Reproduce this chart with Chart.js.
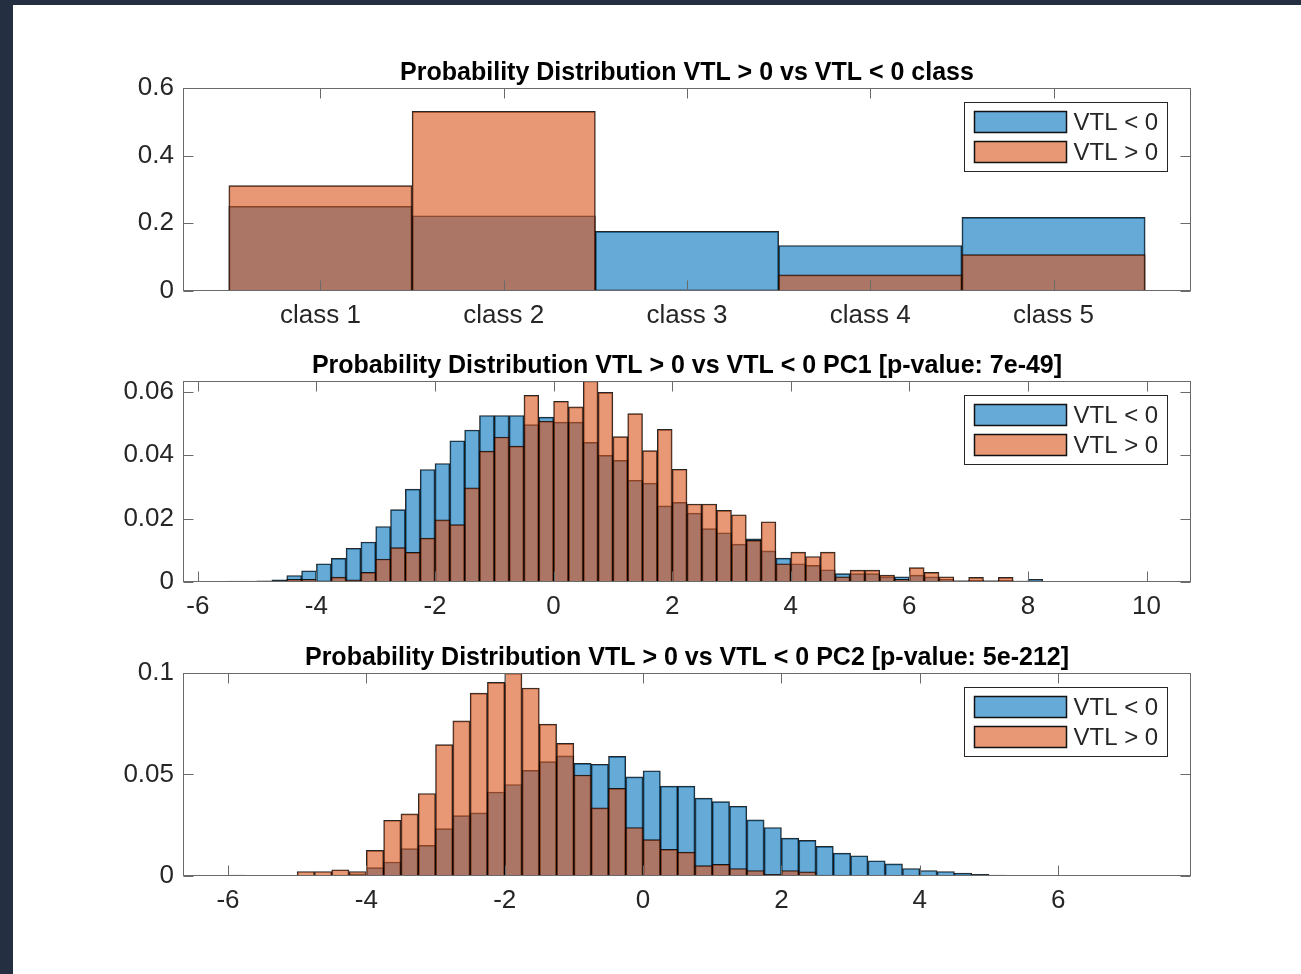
<!DOCTYPE html>
<html>
<head>
<meta charset="utf-8">
<title>Probability Distribution VTL</title>
<script src="https://cdn.jsdelivr.net/npm/chart.js@4.4.1/dist/chart.umd.min.js"></script>
<style>
  html, body { margin: 0; padding: 0; }
  body { width: 1301px; height: 974px; background: #243042; position: relative; overflow: hidden; }
  #sheet { position: absolute; left: 13px; top: 5px; right: 0; bottom: 0; background: #fff; }
  canvas { position: absolute; left: 0; }
</style>
</head>
<body>
<div id="sheet"></div>
<canvas id="classChart" width="1301" height="285" style="top:55px"></canvas>
<canvas id="pc1Chart" width="1301" height="283" style="top:348px"></canvas>
<canvas id="pc2Chart" width="1301" height="285" style="top:640px"></canvas>
<script>
// --- data ---
const legendLabels = ['VTL < 0', 'VTL > 0'];

const classIds = [1, 2, 3, 4, 5];
const classLabels = ['class 1', 'class 2', 'class 3', 'class 4', 'class 5'];
const classNeg = [0.250, 0.222, 0.176, 0.134, 0.217];   // VTL < 0
const classPos = [0.311, 0.531, 0.003, 0.047, 0.107];   // VTL > 0

// PC1 histogram, bins of 0.25 starting at -6.25
const pc1BinStart = -6.25;
const pc1BinWidth = 0.25;
const pc1Neg = [
  0.0001, 0.0001, 0.0001, 0.0002, 0.0002, 0.0003,
  0.0006, 0.0020, 0.0035, 0.0057, 0.0074, 0.0106, 0.0126,
  0.0175, 0.0228, 0.0293, 0.0355, 0.0374, 0.0446, 0.0480,
  0.0526, 0.0526, 0.0526, 0.0497, 0.0521, 0.0505, 0.0505,
  0.0441, 0.0400, 0.0384, 0.0321, 0.0312, 0.0240, 0.0251,
  0.0217, 0.0168, 0.0155, 0.0119, 0.0136, 0.0098, 0.0075,
  0.0057, 0.0052, 0.0038, 0.0026, 0.0026, 0.0026, 0.0016,
  0.0016, 0.0021, 0.0016, 0.0008, 0.0003, 0.0005, 0.0003,
  0.0005, 0.0002, 0.0008, 0.0001, 0.0001, 0.0001, 0,
  0, 0, 0, 0, 0, 0.0001
];
const pc1Pos = [
  0, 0, 0.0001, 0, 0.0001, 0.0001,
  0.0003, 0.0008, 0.0008, 0.0003, 0.0015, 0.0006, 0.0030,
  0.0072, 0.0108, 0.0093, 0.0138, 0.0196, 0.0181, 0.0297,
  0.0413, 0.0458, 0.0429, 0.0590, 0.0508, 0.0571, 0.0553,
  0.0635, 0.0599, 0.0459, 0.0532, 0.0415, 0.0482, 0.0356,
  0.0246, 0.0246, 0.0226, 0.0212, 0.0131, 0.0190, 0.0057,
  0.0094, 0.0080, 0.0094, 0.0016, 0.0037, 0.0037, 0.0021,
  0.0008, 0.0045, 0.0030, 0.0016, 0.0003, 0.0014, 0.0003,
  0.0014, 0.0002, 0.0002, 0.0001, 0, 0, 0,
  0, 0, 0, 0, 0, 0
];

// PC2 histogram, bins of 0.25 starting at -6.5
const pc2BinStart = -6.5;
const pc2BinWidth = 0.25;
const pc2Neg = [
  0.0001, 0.0001, 0.0003, 0, 0, 0,
  0.0002, 0.0002, 0.0003, 0.0010, 0.0040, 0.0068, 0.0134,
  0.0150, 0.0233, 0.0297, 0.0310, 0.0413, 0.0450, 0.0520,
  0.0563, 0.0591, 0.0554, 0.0550, 0.0589, 0.0488, 0.0518,
  0.0442, 0.0442, 0.0383, 0.0366, 0.0343, 0.0276, 0.0238,
  0.0186, 0.0175, 0.0145, 0.0112, 0.0099, 0.0074, 0.0059,
  0.0036, 0.0026, 0.0021, 0.0013, 0.0007, 0.0004, 0.0002,
  0.0002, 0.0001, 0.0001, 0, 0, 0, 0,
  0, 0
];
const pc2Pos = [
  0, 0, 0, 0, 0, 0.0001,
  0.0021, 0.0021, 0.0030, 0.0021, 0.0125, 0.0274, 0.0305,
  0.0406, 0.0647, 0.0764, 0.0901, 0.0954, 0.0999, 0.0926,
  0.0748, 0.0653, 0.0497, 0.0335, 0.0431, 0.0238, 0.0178,
  0.0130, 0.0117, 0.0050, 0.0056, 0.0036, 0.0026, 0.0007,
  0.0026, 0.0020, 0.0003, 0.0003, 0.0002, 0.0001, 0.0001,
  0, 0, 0, 0, 0, 0, 0,
  0, 0, 0, 0, 0, 0, 0,
  0, 0
];

// --- styles ---
const BLUE = 'rgba(0, 114, 189, 0.6)';
const ORANGE = 'rgba(217, 83, 25, 0.6)';
const EDGE = 'rgba(0, 0, 0, 0.85)';
const AXIS = '#6a6a6a';
const FONT = '"Liberation Sans", Arial, Helvetica, sans-serif';
const TICK_SIZE = 26;

Chart.defaults.font.family = FONT;
Chart.defaults.color = '#262626';

function binData(start, width, values) {
  return values.map((v, i) => ({ x: start + width * (i + 0.5), y: v }));
}

function fmt(v) {
  return String(Number(v.toFixed(4)));
}

// MATLAB-like box with inward ticks on all four sides
const matlabBox = {
  id: 'matlabBox',
  afterDatasetsDraw(chart) {
    const { ctx, chartArea: a, scales: { x, y } } = chart;
    const L = Math.round(a.left) + 0.5, R = Math.round(a.right) - 0.5;
    const T = Math.round(a.top) + 0.5, B = Math.round(a.bottom) - 0.5;
    const len = 10;
    ctx.save();
    ctx.strokeStyle = AXIS;
    ctx.lineWidth = 1;
    ctx.beginPath();
    x.ticks.forEach(t => {
      const px = Math.round(x.getPixelForValue(t.value)) + 0.5;
      ctx.moveTo(px, B); ctx.lineTo(px, B - len);
      ctx.moveTo(px, T); ctx.lineTo(px, T + len);
    });
    y.ticks.forEach(t => {
      const py = Math.round(y.getPixelForValue(t.value)) + 0.5;
      ctx.moveTo(L, py); ctx.lineTo(L + len, py);
      ctx.moveTo(R, py); ctx.lineTo(R - len, py);
    });
    ctx.stroke();
    ctx.strokeRect(L, T, R - L, B - T);
    ctx.restore();
  }
};

// legend box in the top right corner of the axes
const cornerLegend = {
  id: 'cornerLegend',
  afterDraw(chart) {
    const { ctx, chartArea: a } = chart;
    const w = 203, h = 69;
    const bx = Math.round(a.right) - 24 - w + 0.5;
    const by = Math.round(a.top) + 14 + 0.5;
    ctx.save();
    ctx.fillStyle = '#fff';
    ctx.fillRect(bx, by, w, h);
    ctx.strokeStyle = '#262626';
    ctx.lineWidth = 1;
    ctx.strokeRect(bx, by, w, h);
    const fills = [BLUE, ORANGE];
    ctx.font = '24px ' + FONT;
    ctx.textBaseline = 'middle';
    legendLabels.forEach((lab, i) => {
      const py = by + 9 + i * 30;
      ctx.fillStyle = fills[i];
      ctx.fillRect(bx + 10, py, 92, 21);
      ctx.lineWidth = 1.5;
      ctx.strokeStyle = '#111';
      ctx.strokeRect(bx + 10, py, 92, 21);
      ctx.fillStyle = '#262626';
      ctx.fillText(lab, bx + 109, py + 11.5);
    });
    ctx.restore();
  }
};

function makeChart(id, title, negData, posData, xOpts, yOpts) {
  return new Chart(document.getElementById(id), {
    type: 'bar',
    data: {
      datasets: [
        { label: legendLabels[0], data: negData, backgroundColor: BLUE, borderColor: EDGE, borderWidth: 1, order: 1 },
        { label: legendLabels[1], data: posData, backgroundColor: ORANGE, borderColor: EDGE, borderWidth: 1, order: 0 }
      ]
    },
    options: {
      responsive: false,
      animation: false,
      devicePixelRatio: 1,
      grouped: false,
      barPercentage: 1,
      categoryPercentage: 1,
      layout: { padding: { left: 0, right: 110, top: 0, bottom: 0 } },
      plugins: {
        legend: { display: false },
        tooltip: { enabled: false },
        title: {
          display: true,
          text: title,
          fullSize: false,
          color: '#000',
          font: { size: 25, weight: 'bold' },
          padding: { top: 3, bottom: 0 }
        }
      },
      scales: {
        x: Object.assign({
          type: 'linear',
          offset: false,
          grid: { display: false, drawTicks: false },
          border: { display: false }
        }, xOpts),
        y: Object.assign({
          min: 0,
          grid: { display: false, drawTicks: false },
          border: { display: false },
          afterFit(scale) { scale.width = 183; }
        }, yOpts)
      }
    },
    plugins: [matlabBox, cornerLegend]
  });
}

const xTicks = { font: { size: TICK_SIZE }, padding: 9, includeBounds: false, maxRotation: 0 };
const yTicks = { font: { size: TICK_SIZE }, padding: 9, includeBounds: false, callback: fmt };

makeChart('classChart', 'Probability Distribution VTL > 0 vs VTL < 0 class',
  classIds.map((c, i) => ({ x: c, y: classNeg[i] })),
  classIds.map((c, i) => ({ x: c, y: classPos[i] })),
  { min: 0.25, max: 5.75,
    ticks: Object.assign({}, xTicks, { stepSize: 1, callback: v => classLabels[classIds.indexOf(v)] || '' }) },
  { max: 0.6, ticks: Object.assign({}, yTicks, { stepSize: 0.2 }) }
);

makeChart('pc1Chart', 'Probability Distribution VTL > 0 vs VTL < 0 PC1 [p-value: 7e-49]',
  binData(pc1BinStart, pc1BinWidth, pc1Neg),
  binData(pc1BinStart, pc1BinWidth, pc1Pos),
  { min: -6.25, max: 10.75, ticks: Object.assign({}, xTicks, { stepSize: 2, callback: fmt }) },
  { max: 0.0635, ticks: Object.assign({}, yTicks, { stepSize: 0.02 }) }
);

makeChart('pc2Chart', 'Probability Distribution VTL > 0 vs VTL < 0 PC2 [p-value: 5e-212]',
  binData(pc2BinStart, pc2BinWidth, pc2Neg),
  binData(pc2BinStart, pc2BinWidth, pc2Pos),
  { min: -6.65, max: 7.92, ticks: Object.assign({}, xTicks, { stepSize: 2, callback: fmt }) },
  { max: 0.1, ticks: Object.assign({}, yTicks, { stepSize: 0.05 }) }
);
</script>
</body>
</html>
